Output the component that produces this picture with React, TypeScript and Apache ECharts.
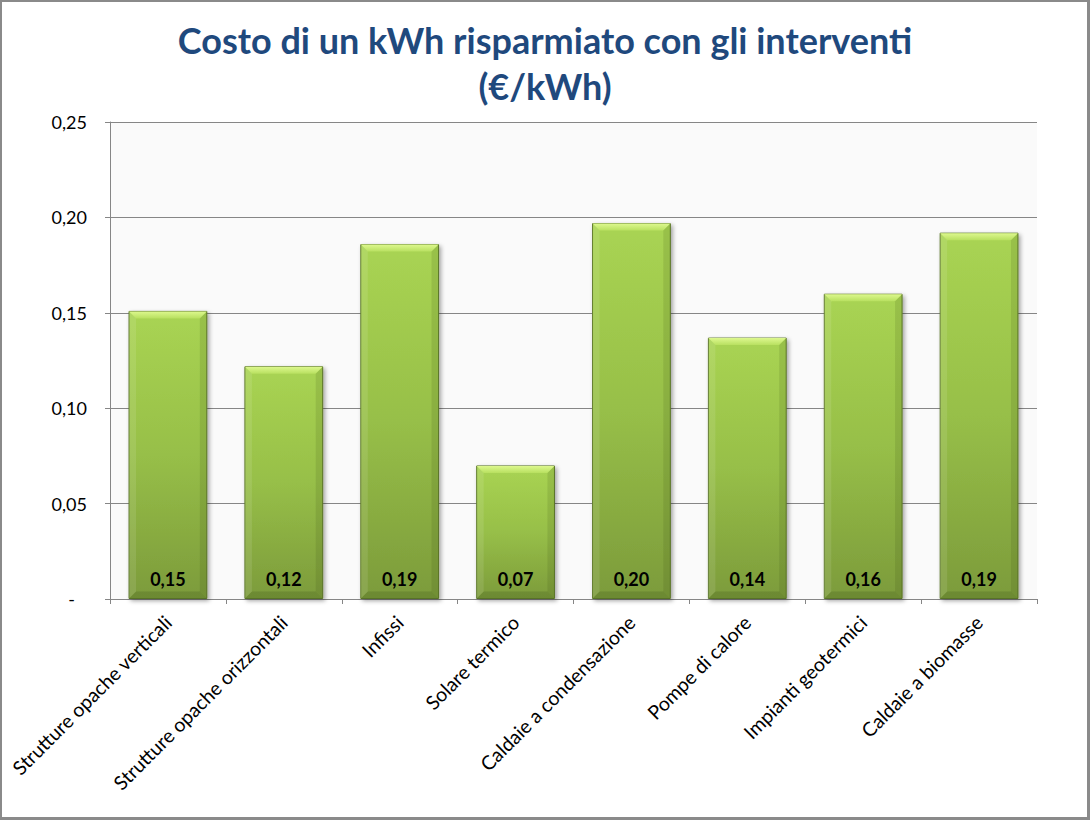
import React, { useEffect, useRef } from "react";
import * as echarts from "echarts";

const categories = [
  "Strutture opache verticali",
  "Strutture opache orizzontali",
  "Infissi",
  "Solare termico",
  "Caldaie a condensazione",
  "Pompe di calore",
  "Impianti geotermici",
  "Caldaie a biomasse",
];
const values = [0.151, 0.122, 0.186, 0.07, 0.197, 0.137, 0.16, 0.192];
const yTicks = { min: 0, max: 0.25, interval: 0.05 };
const titleLines = ["Costo di un kWh risparmiato con gli interventi", "(€/kWh)"];

const FONT = "Lato, 'Noto Sans', sans-serif";
const fmt = (v: number) => v.toFixed(2).replace(".", ",");
const BAR_RATIO = 0.68;

export default function App() {
  const ref = useRef<HTMLDivElement>(null);
  useEffect(() => {
    document.body.style.margin = "0";
    const chart = echarts.init(ref.current!, undefined, { renderer: "svg" });
    chart.setOption({
      animation: false,
      backgroundColor: "#ffffff",
      title: {
        text: titleLines.join("\n"),
        left: "center",
        top: 12,
        textStyle: {
          fontFamily: FONT,
          fontSize: 36,
          fontWeight: "bold",
          color: "#1F497D",
          lineHeight: 46,
        },
      },
      grid: {
        left: 110,
        right: 53,
        top: 122,
        bottom: 221,
        show: true,
        backgroundColor: "#fafafa",
        borderWidth: 0,
      },
      xAxis: {
        type: "category",
        data: categories,
        axisLine: { show: true, lineStyle: { color: "#868686", width: 1 } },
        axisTick: { show: true, alignWithLabel: false, length: 5, lineStyle: { color: "#868686" } },
        axisLabel: {
          rotate: 45,
          interval: 0,
          margin: 20,
          fontFamily: FONT,
          fontSize: 19.5,
          color: "#000000",
        },
      },
      yAxis: {
        type: "value",
        min: yTicks.min,
        max: yTicks.max,
        interval: yTicks.interval,
        axisLine: { show: true, lineStyle: { color: "#868686", width: 1 } },
        axisTick: { show: true, length: 5, lineStyle: { color: "#868686" } },
        splitLine: { show: true, lineStyle: { color: "#868686", width: 1 } },
        axisLabel: {
          margin: 23,
          fontFamily: FONT,
          fontSize: 18,
          color: "#000000",
          formatter: (v: number) => (v === 0 ? "{z|-}" : fmt(v)),
          rich: { z: { fontFamily: FONT, fontSize: 18, color: "#000", padding: [0, 12, 0, 0] } },
        },
      },
      series: [
        {
          type: "bar",
          data: values,
          barCategoryGap: "32%",
          itemStyle: {
            color: new echarts.graphic.LinearGradient(0, 0, 0, 1, [
              { offset: 0, color: "#a9d453" },
              { offset: 0.5, color: "#97bf48" },
              { offset: 1, color: "#7c9b3b" },
            ]),
            borderColor: "#5d7829",
            borderWidth: 1,
            shadowColor: "rgba(0,0,0,0.35)",
            shadowBlur: 4,
            shadowOffsetX: 2,
            shadowOffsetY: 2,
          },
          label: {
            show: true,
            position: "insideBottom",
            distance: 11,
            fontFamily: FONT,
            fontSize: 18,
            fontWeight: "bold",
            color: "#000000",
            formatter: (p: any) => fmt(p.value),
          },
          z: 2,
        },
        {
          type: "custom",
          data: values.map((v, i) => [i, v]),
          z: 3,
          silent: true,
          renderItem: (params: any, api: any) => {
            const idx = api.value(0);
            const val = api.value(1);
            const top = api.coord([idx, val]);
            const base = api.coord([idx, 0]);
            const band = api.size([1, 0])[0];
            const w = band * BAR_RATIO;
            const x0 = top[0] - w / 2 + 0.5;
            const x1 = top[0] + w / 2 - 0.5;
            const y0 = top[1] + 0.5;
            const y1 = base[1] - 0.5;
            const b = 7;
            return {
              type: "group",
              children: [
                {
                  type: "polygon",
                  shape: { points: [[x0, y0], [x1, y0], [x1 - b, y0 + b], [x0 + b, y0 + b]] },
                  style: {
                    fill: new echarts.graphic.LinearGradient(0, 0, 0, 1, [
                      { offset: 0, color: "#ddf88e" },
                      { offset: 1, color: "#b8e060" },
                    ]),
                  },
                },
                {
                  type: "polygon",
                  shape: { points: [[x0, y0], [x0 + b, y0 + b], [x0 + b, y1 - b], [x0, y1]] },
                  style: { fill: "rgba(255,255,255,0.10)" },
                },
                {
                  type: "polygon",
                  shape: { points: [[x1, y0], [x1 - b, y0 + b], [x1 - b, y1 - b], [x1, y1]] },
                  style: { fill: "rgba(40,60,10,0.12)" },
                },
                {
                  type: "polygon",
                  shape: { points: [[x0, y1], [x0 + b, y1 - b], [x1 - b, y1 - b], [x1, y1]] },
                  style: { fill: "rgba(40,60,10,0.18)" },
                },
              ],
            };
          },
        },
      ],
    });
    return () => chart.dispose();
  }, []);
  return (
    <div style={{ position: "fixed", left: 0, top: 0, width: 1090, height: 820 }}>
      <div ref={ref} style={{ width: 1090, height: 820 }} />
      <div
        style={{
          position: "absolute",
          left: 0,
          top: 0,
          width: 1090,
          height: 820,
          boxSizing: "border-box",
          borderTop: "2px solid #8a8a8a",
          borderLeft: "2px solid #8a8a8a",
          borderRight: "3px solid #8a8a8a",
          borderBottom: "3px solid #8a8a8a",
          pointerEvents: "none",
        }}
      />
    </div>
  );
}
